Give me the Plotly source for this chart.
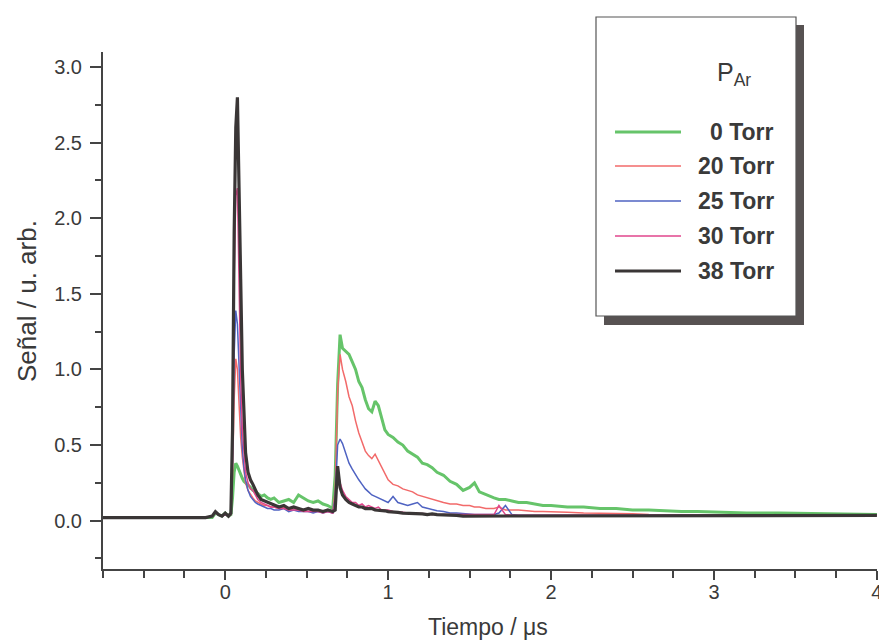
import plotly.graph_objects as go

# ---------------- data ----------------
tiempo = [-0.75, -0.5, -0.25, -0.12, -0.08, -0.06, -0.04, -0.02, 0.0, 0.02,
          0.035, 0.045, 0.055, 0.065, 0.075, 0.085, 0.095, 0.105, 0.115, 0.125,
          0.14, 0.155, 0.17, 0.185, 0.2, 0.22, 0.24, 0.26, 0.28, 0.3,
          0.33, 0.36, 0.39, 0.42, 0.45, 0.48, 0.51, 0.54, 0.57, 0.6,
          0.63, 0.66, 0.675, 0.69, 0.705, 0.72, 0.74, 0.76, 0.78, 0.8,
          0.82, 0.84, 0.86, 0.88, 0.9, 0.92, 0.94, 0.96, 0.98, 1.0,
          1.03, 1.06, 1.09, 1.12, 1.15, 1.18, 1.21, 1.24, 1.27, 1.3,
          1.34, 1.38, 1.42, 1.46, 1.5, 1.53, 1.56, 1.6, 1.65, 1.68,
          1.72, 1.76, 1.8, 1.85, 1.9, 1.95, 2.0, 2.1, 2.2, 2.3,
          2.4, 2.5, 2.6, 2.7, 2.8, 2.9, 3.0, 3.2, 3.4, 3.6,
          3.8, 4.0]

p0 = [0.02, 0.02, 0.02, 0.02, 0.02, 0.05, 0.04, 0.03, 0.05, 0.03,
      0.04, 0.15, 0.32, 0.38, 0.36, 0.33, 0.30, 0.28, 0.26, 0.25,
      0.24, 0.22, 0.20, 0.19, 0.18, 0.16, 0.17, 0.15, 0.14, 0.15,
      0.12, 0.13, 0.14, 0.12, 0.17, 0.15, 0.13, 0.12, 0.13, 0.11,
      0.10, 0.08, 0.30, 0.90, 1.23, 1.14, 1.12, 1.10, 1.05, 1.00,
      0.92, 0.88, 0.80, 0.74, 0.72, 0.79, 0.76, 0.68, 0.60, 0.57,
      0.55, 0.52, 0.50, 0.46, 0.44, 0.42, 0.38, 0.37, 0.35, 0.32,
      0.30, 0.26, 0.24, 0.20, 0.22, 0.25, 0.19, 0.17, 0.15, 0.14,
      0.14, 0.13, 0.12, 0.12, 0.11, 0.10, 0.10, 0.09, 0.09, 0.08,
      0.08, 0.07, 0.07, 0.065, 0.06, 0.06, 0.055, 0.05, 0.05, 0.045,
      0.04, 0.04]

p20 = [0.02, 0.02, 0.02, 0.02, 0.03, 0.05, 0.04, 0.03, 0.04, 0.03,
       0.04, 0.30, 0.80, 1.07, 1.00, 0.75, 0.55, 0.42, 0.32, 0.25,
       0.20, 0.17, 0.15, 0.13, 0.12, 0.11, 0.10, 0.10, 0.09, 0.09,
       0.08, 0.09, 0.07, 0.08, 0.07, 0.07, 0.06, 0.07, 0.06, 0.06,
       0.06, 0.05, 0.20, 0.85, 1.10, 1.00, 0.92, 0.82, 0.76, 0.66,
       0.58, 0.52, 0.46, 0.43, 0.41, 0.44, 0.40, 0.35, 0.31, 0.27,
       0.24, 0.23, 0.21, 0.20, 0.19, 0.17, 0.16, 0.15, 0.14, 0.13,
       0.12, 0.11, 0.11, 0.10, 0.10, 0.09, 0.09, 0.08, 0.08, 0.09,
       0.07, 0.07, 0.07, 0.065, 0.06, 0.06, 0.06, 0.055, 0.05, 0.05,
       0.045, 0.045, 0.04, 0.04, 0.04, 0.035, 0.035, 0.035, 0.035, 0.035,
       0.035, 0.035]

p25 = [0.02, 0.02, 0.02, 0.02, 0.03, 0.05, 0.04, 0.03, 0.04, 0.03,
       0.04, 0.40, 1.10, 1.39, 1.30, 1.00, 0.70, 0.48, 0.35, 0.27,
       0.20, 0.16, 0.14, 0.12, 0.11, 0.10, 0.09, 0.08, 0.08, 0.07,
       0.07, 0.08, 0.06, 0.07, 0.06, 0.06, 0.06, 0.05, 0.06, 0.05,
       0.06, 0.05, 0.15, 0.50, 0.54, 0.51, 0.45, 0.38, 0.34, 0.30,
       0.27, 0.24, 0.21, 0.19, 0.17, 0.16, 0.15, 0.14, 0.13, 0.12,
       0.16, 0.12, 0.11, 0.10, 0.11, 0.12, 0.09, 0.08, 0.07, 0.065,
       0.06, 0.05, 0.05, 0.045, 0.045, 0.04, 0.04, 0.04, 0.04, 0.05,
       0.10, 0.04, 0.035, 0.035, 0.035, 0.035, 0.035, 0.035, 0.035, 0.035,
       0.035, 0.035, 0.035, 0.035, 0.035, 0.035, 0.035, 0.035, 0.035, 0.035,
       0.035, 0.035]

p30 = [0.02, 0.02, 0.02, 0.02, 0.03, 0.05, 0.04, 0.03, 0.04, 0.03,
       0.04, 0.50, 1.60, 2.15, 2.20, 1.50, 0.95, 0.60, 0.42, 0.32,
       0.25, 0.21, 0.20, 0.17, 0.14, 0.12, 0.11, 0.10, 0.09, 0.09,
       0.08, 0.08, 0.07, 0.07, 0.07, 0.06, 0.06, 0.06, 0.06, 0.05,
       0.06, 0.05, 0.12, 0.33, 0.25, 0.20, 0.16, 0.14, 0.12, 0.12,
       0.10, 0.11, 0.09, 0.10, 0.09, 0.08, 0.09, 0.07, 0.07, 0.07,
       0.06, 0.06, 0.055, 0.05, 0.05, 0.05, 0.045, 0.045, 0.04, 0.04,
       0.04, 0.04, 0.035, 0.035, 0.035, 0.035, 0.035, 0.035, 0.04, 0.10,
       0.04, 0.035, 0.035, 0.035, 0.035, 0.035, 0.035, 0.035, 0.035, 0.035,
       0.035, 0.035, 0.035, 0.035, 0.035, 0.035, 0.035, 0.035, 0.035, 0.035,
       0.035, 0.035]

p38 = [0.02, 0.02, 0.02, 0.02, 0.03, 0.06, 0.04, 0.03, 0.05, 0.03,
       0.05, 0.60, 1.90, 2.60, 2.80, 2.30, 1.60, 1.00, 0.65, 0.45,
       0.32, 0.27, 0.24, 0.20, 0.17, 0.14, 0.13, 0.12, 0.11, 0.10,
       0.09, 0.10, 0.08, 0.09, 0.08, 0.07, 0.08, 0.07, 0.07, 0.06,
       0.07, 0.06, 0.07, 0.36, 0.22, 0.17, 0.14, 0.12, 0.11, 0.10,
       0.09, 0.09, 0.08, 0.08, 0.08, 0.07, 0.07, 0.07, 0.065, 0.06,
       0.06, 0.055, 0.05, 0.05, 0.05, 0.045, 0.045, 0.04, 0.045, 0.04,
       0.04, 0.035, 0.035, 0.03, 0.03, 0.03, 0.03, 0.03, 0.03, 0.03,
       0.03, 0.03, 0.03, 0.03, 0.03, 0.03, 0.03, 0.03, 0.03, 0.03,
       0.03, 0.03, 0.03, 0.03, 0.03, 0.03, 0.03, 0.035, 0.03, 0.035,
       0.035, 0.035]

series_names = ["0 Torr", "20 Torr", "25 Torr", "30 Torr", "38 Torr"]
series_values = [p0, p20, p25, p30, p38]
series_colors = ["#66c46a", "#f26a6a", "#4f63c2", "#e0468c", "#3a3636"]
series_widths = [3, 1.5, 1.5, 1.5, 3.2]

x_tick_vals = [0, 1, 2, 3, 4]
y_tick_vals = [0.0, 0.5, 1.0, 1.5, 2.0, 2.5, 3.0]
y_tick_text = ["0.0", "0.5", "1.0", "1.5", "2.0", "2.5", "3.0"]

# ---------------- figure ----------------
W, H = 879, 641
L, R, T, B = 103, 877, 52, 569

fig = go.Figure()
for name, vals, col, w in zip(series_names, series_values, series_colors, series_widths):
    fig.add_trace(go.Scatter(x=tiempo, y=vals, mode="lines", name=name,
                             line=dict(color=col, width=w), showlegend=False))

axis_color = "#444444"
font_fam = "Liberation Sans, Arial, sans-serif"
txt_color = "#3a3a3a"

fig.update_layout(
    width=W, height=H,
    margin=dict(l=L, r=W - R, t=T, b=H - B, pad=0),
    paper_bgcolor="white", plot_bgcolor="white",
    font=dict(family=font_fam, color=txt_color),
    xaxis=dict(range=[-0.75, 4.0005], showgrid=False, zeroline=False,
               automargin=False, ticklabeloverflow="allow",
               ticklabelstandoff=-5,
               showline=True, linecolor=axis_color, linewidth=2,
               ticks="outside", ticklen=9, tickwidth=1.5, tickcolor=axis_color,
               tickvals=x_tick_vals, tickfont=dict(size=20, color=txt_color),
               minor=dict(dtick=0.25, tick0=0, ticks="outside", ticklen=7,
                          tickwidth=1.5, tickcolor=axis_color)),
    yaxis=dict(range=[-0.32, 3.1], showgrid=False, zeroline=False,
               automargin=False, ticklabelstandoff=4,
               showline=True, linecolor=axis_color, linewidth=2,
               ticks="outside", ticklen=11, tickwidth=1.5, tickcolor=axis_color,
               tickvals=y_tick_vals, ticktext=y_tick_text,
               tickfont=dict(size=20, color=txt_color),
               minor=dict(dtick=0.25, tick0=0, ticks="outside", ticklen=6,
                          tickwidth=1.5, tickcolor=axis_color)),
)

# ---------------- custom legend box with shadow ----------------
def px_x(px):
    return (px - L) / (R - L)

def px_y(py):
    return (B - py) / (B - T)

shapes = []
shapes.append(dict(type="rect", xref="paper", yref="paper",
                   x0=px_x(604), x1=px_x(804), y0=px_y(25), y1=px_y(325),
                   fillcolor="#575252", line=dict(width=0), layer="above"))
shapes.append(dict(type="rect", xref="paper", yref="paper",
                   x0=px_x(596), x1=px_x(796), y0=px_y(17), y1=px_y(316),
                   fillcolor="white", line=dict(color="#555", width=1.2), layer="above"))
row_y = [132, 166, 201, 236, 271]
for yy, col, w in zip(row_y, series_colors, series_widths):
    shapes.append(dict(type="line", xref="paper", yref="paper",
                       x0=px_x(615), x1=px_x(681), y0=px_y(yy), y1=px_y(yy),
                       line=dict(color=col, width=w), layer="above"))
fig.update_layout(shapes=shapes)

annotations = []
# axis titles
annotations.append(dict(xref="paper", yref="paper", x=px_x(488), y=px_y(627),
                        text="Tiempo / μs", showarrow=False,
                        font=dict(size=23, color=txt_color, family=font_fam),
                        xanchor="center", yanchor="middle"))
annotations.append(dict(xref="paper", yref="paper", x=px_x(27), y=px_y(301),
                        text="Señal / u. arb.", showarrow=False, textangle=-90,
                        font=dict(size=26, color=txt_color, family=font_fam),
                        xanchor="center", yanchor="middle"))
# legend text
annotations.append(dict(xref="paper", yref="paper", x=px_x(734), y=px_y(74),
                        text="P<sub>Ar</sub>", showarrow=False,
                        font=dict(size=25, color=txt_color, family=font_fam),
                        xanchor="center", yanchor="middle"))
for yy, name in zip(row_y, series_names):
    annotations.append(dict(xref="paper", yref="paper", x=px_x(776), y=px_y(yy),
                            text="<b>" + name + "</b>", showarrow=False,
                            font=dict(size=23, color=txt_color, family=font_fam),
                            xanchor="right", yanchor="middle"))
fig.update_layout(annotations=annotations)

fig.write_html("out.html", config={"displayModeBar": False},
               post_script="document.body.style.margin='0px';document.body.style.overflow='hidden';")
